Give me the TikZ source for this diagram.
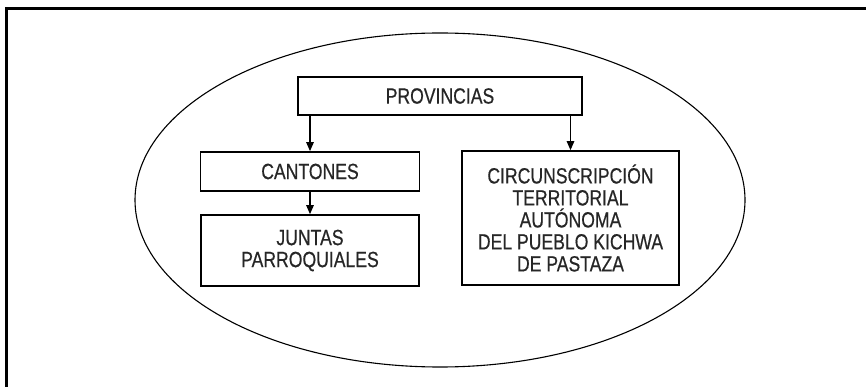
\documentclass[tikz,border=0pt]{standalone}
\usepackage{fontspec}
\setmainfont{Liberation Sans}[FakeStretch=0.8,FakeBold=0.5]
\usetikzlibrary{arrows.meta,shapes.geometric}
\begin{document}
\begin{tikzpicture}[x=1pt,y=-1pt,
  orgbox/.style={draw=black,line width=1.7pt,rectangle,inner sep=0pt,align=center,
    text=black!85,font=\fontsize{22}{22}\selectfont},
  arr/.style={line width=1.2pt,-{Triangle[length=9pt,width=7.5pt]}}]
\useasboundingbox (0,0) rectangle (866,387);
\fill[white] (0,0) rectangle (866,387);
% frame (top and left edges)
\coordinate (ftl) at (6.3,8.5);
\coordinate (ftr) at (866,8.5);
\coordinate (fbl) at (6.3,387);
\draw[line width=2.6pt] (fbl) -- (ftl) -- (ftr);
% ellipse
\node[draw,ellipse,line width=1.1pt,minimum width=610,minimum height=334,inner sep=0pt] (ell) at (440,200) {};
% boxes
\node[orgbox,minimum width=284,minimum height=38] (prov) at (440,96) {PROVINCIAS};
\node[orgbox,minimum width=219,minimum height=39] (cant) at (310,171.5) {CANTONES};
\node[orgbox,minimum width=218,minimum height=71] (junt) at (310,250.5) {JUNTAS\\PARROQUIALES};
\node[orgbox,minimum width=217,minimum height=134] (circ) at (570.5,218) {CIRCUNSCRIPCIÓN\\TERRITORIAL\\AUTÓNOMA\\DEL PUEBLO KICHWA\\DE PASTAZA};
% connectors
\draw[arr] (prov.south -| cant.north) -- (cant.north);
\draw[arr] (prov.south -| circ.north) -- (circ.north);
\draw[arr] (cant.south) -- (junt.north);
\end{tikzpicture}
\end{document}
